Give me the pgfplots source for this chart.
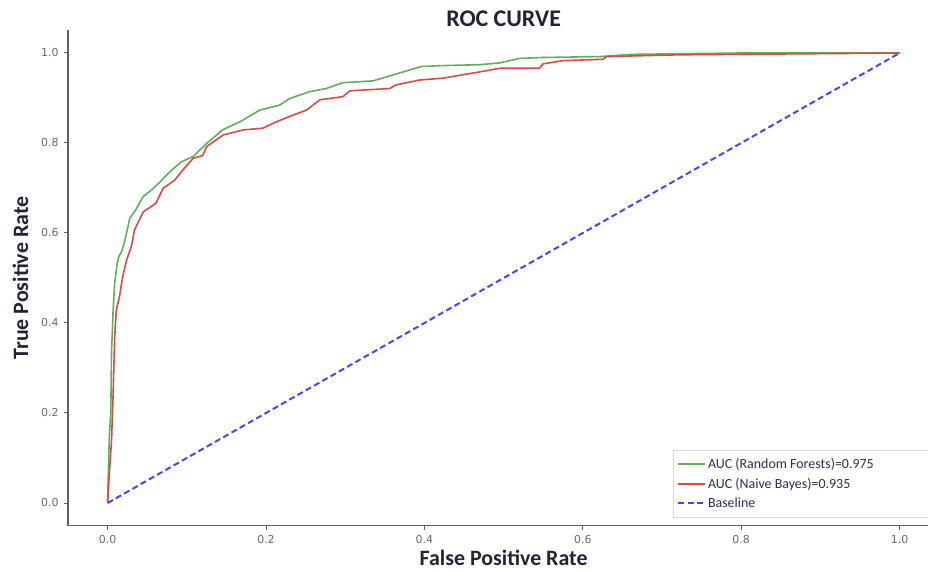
\documentclass[border=0pt]{standalone}
\usepackage{pgfplots}
\pgfplotsset{compat=1.18}
\usepackage{fontspec}
\setmainfont{Carlito}
\newfontfamily\dejavu{DejaVu Sans}
\definecolor{rfgreen}{RGB}{96,176,90}
\definecolor{nbred}{RGB}{222,72,72}
\definecolor{baseblue}{RGB}{70,70,245}
\definecolor{spinegray}{RGB}{95,95,95}
\definecolor{tickgray}{RGB}{105,105,105}
\definecolor{labeltext}{RGB}{35,35,55}
\definecolor{legendtext}{RGB}{45,45,85}
\definecolor{legendgray}{RGB}{215,215,215}
\begin{document}
\begin{tikzpicture}
\path[use as bounding box, clip] (-68bp,-45.5bp) rectangle (860bp,525.5bp);
\begin{axis}[
  at={(0,0)}, anchor=south west,
  scale only axis, width=871.2bp, height=495bp,
  xmin=-0.05, xmax=1.05, ymin=-0.05, ymax=1.05,
  axis lines=left,
  axis line style={-, draw=spinegray, line width=1.4bp},
  xtick={0,0.2,0.4,0.6,0.8,1.0},
  ytick={0,0.2,0.4,0.6,0.8,1.0},
  tick align=outside,
  major tick length=4bp,
  tick style={draw=spinegray, line width=1bp},
  /pgf/number format/assume math mode=true,
  /pgf/number format/.cd, fixed, fixed zerofill, precision=1, /pgfplots/.cd,
  ticklabel style={font=\dejavu\fontsize{11}{13}\selectfont, text=tickgray},
  xticklabel style={yshift=-2bp},
  yticklabel style={xshift=-2bp},
  title={ROC CURVE},
  title style={at={(axis description cs:0.5,0.995)}, anchor=base,
    font=\bfseries\fontsize{24}{28}\selectfont, text=labeltext},
  xlabel={False Positive Rate},
  xlabel style={at={(axis description cs:0.5,-0.0818)}, anchor=base,
    font=\bfseries\fontsize{22}{26}\selectfont, text=labeltext},
  ylabel={True Positive Rate},
  ylabel style={at={(axis description cs:-0.0459,0.5)}, anchor=base, rotate=0,
    font=\bfseries\fontsize{22}{26}\selectfont, text=labeltext},
  legend cell align=left,
  legend image code/.code={\draw[#1] (0bp,0bp) -- (27bp,0bp);},
  legend style={at={(axis description cs:0.694,0.1525)}, anchor=north west,
    draw=legendgray, line width=0.8bp, fill=white, text=legendtext,
    font=\fontsize{14}{16}\selectfont,
    inner xsep=4bp, inner ysep=6bp, row sep=4bp},
]
\addplot[rfgreen, line width=1.6bp] coordinates {
(0,0) (0.001,0.07) (0.002,0.14) (0.004,0.20) (0.005,0.34) (0.006,0.38)
(0.007,0.43) (0.009,0.49) (0.012,0.53) (0.014,0.547) (0.018,0.56)
(0.021,0.578) (0.024,0.60) (0.028,0.633) (0.035,0.65) (0.045,0.681)
(0.055,0.695) (0.066,0.713) (0.078,0.735) (0.093,0.758) (0.108,0.77)
(0.125,0.799) (0.146,0.83) (0.167,0.847) (0.192,0.873) (0.217,0.884)
(0.23,0.899) (0.255,0.914) (0.276,0.921) (0.297,0.934) (0.335,0.938)
(0.36,0.951) (0.396,0.97) (0.423,0.972) (0.47,0.974) (0.495,0.978)
(0.52,0.988) (0.55,0.99) (0.621,0.992) (0.663,0.997) (0.8,1.0) (1,1)
};
\addlegendentry{\makebox[230bp][l]{AUC (Random Forests)=0.975}}
\addplot[nbred, line width=1.6bp] coordinates {
(0,0) (0.0025,0.073) (0.005,0.14) (0.007,0.244) (0.009,0.37) (0.011,0.429)
(0.015,0.458) (0.019,0.503) (0.024,0.54) (0.03,0.57) (0.034,0.607)
(0.045,0.647) (0.061,0.666) (0.07,0.699) (0.085,0.718) (0.095,0.74)
(0.108,0.766) (0.12,0.772) (0.125,0.792) (0.146,0.818) (0.171,0.829)
(0.196,0.833) (0.213,0.847) (0.234,0.862) (0.251,0.873) (0.268,0.896)
(0.297,0.903) (0.306,0.916) (0.356,0.921) (0.364,0.929) (0.394,0.94)
(0.423,0.944) (0.47,0.958) (0.495,0.966) (0.545,0.966) (0.55,0.976)
(0.575,0.983) (0.625,0.986) (0.63,0.992) (0.722,0.996) (0.937,0.999) (1,1)
};
\addlegendentry{AUC (Naive Bayes)=0.935}
\addplot[baseblue, line width=2bp, dash pattern=on 6bp off 3.5bp] coordinates {
(0,0) (1,1)
};
\addlegendentry{Baseline}
\end{axis}
\end{tikzpicture}
\end{document}
